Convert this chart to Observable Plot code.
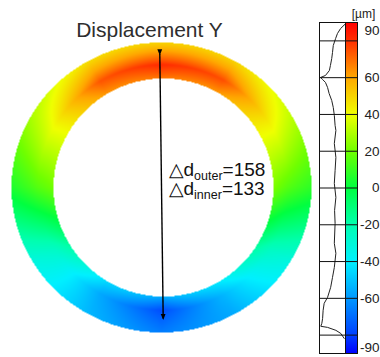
<!DOCTYPE html>
<html><head><meta charset="utf-8">
<script src="https://cdn.jsdelivr.net/npm/d3@7"></script>
<script src="https://cdn.jsdelivr.net/npm/@observablehq/plot@0.6"></script>
<style>
html,body{margin:0;padding:0;background:#fff;}
#wrap{display:flex;width:380px;height:357px;overflow:hidden;font-family:"Liberation Sans",Arial,sans-serif;}
#left{width:312px;flex:none;}
#right{width:68px;flex:none;}
#title{height:40px;box-sizing:border-box;padding-top:19px;width:299px;text-align:center;font-size:21px;line-height:21px;color:#2e2e2e;}
svg{overflow:visible;}
</style></head><body>
<div id="wrap"><div id="left"><div id="title">Displacement Y</div></div><div id="right"></div></div>
<script>
// ---- ring field: displacement values [µm] read around the ring (angle 0 = right, 90 = top)
const ringAngles  = [-180, -150, -120,  -90,  -60,  -30,   0,  30,  60,  90, 120, 150, 180];
const innerValues = [  20,  -15,  -45,  -55,  -42,  -15,  22,  42,  63,  68,  63,  40,  20];
const midValues   = [  15,  -25,  -56,  -77,  -53,  -25,  15,  43,  75,  81,  74,  41,  15];
const outerValues = [   5,  -32,  -53,  -66,  -56,  -32,   8,  33,  50,  50,  48,  30,   5];
const ringRadial  = [0, 0.45, 1];          // inner edge, middle, outer edge
const outerRadii  = [150, 145];            // ring geometry (plot units)
const innerRadii  = [110, 109];
const innerShiftX = 2;

// ---- annotation
const annotations = [{name: "outer", value: 158}, {name: "inner", value: 133}];
const arrowEnds = [{x1: -1.7, y1: 133.5, x2: 1.7, y2: -131}];

// ---- colour bar
const colorDomain = [-90, -80, -60, -40, -20, 0, 20, 40, 60, 80, 90];
const colorRange  = ["#0000ff", "#0040ff", "#0098ff", "#00f0ff", "#00ffb0", "#00ff40", "#70ff00", "#f0ff00", "#ffa800", "#ff3000", "#ff0000"];
const gridValues  = [80, 60, 40, 20, 0, -20, -40, -60, -80];
const tickMiddle  = [60, 40, 20, 0, -20, -40, -60];
const tickTop     = [90];
const tickBottom  = [-90];
const unitLabel   = "[µm]";

// ---- histogram in the colour bar (value, relative frequency)
const histValues = [88.9, 86.7, 84.0, 81.3, 77.5, 73.7, 70.4, 66.6, 63.9, 61.2, 60.1, 59.0, 57.4, 54.7, 51.4, 47.6, 43.8, 39.5, 34.0, 31.3, 24.2, 16.6, 9.6, 2.5, -5.1, -12.2, -19.2, -30.1, -35.5, -43.2, -48.6, -54.0, -59.5, -62.7, -66.5, -70.9, -73.6, -75.2, -75.8, -77.4, -79.1, -81.8];
const histFreqs  = [0.03, 0.19, 0.31, 0.38, 0.47, 0.50, 0.53, 0.58, 0.62, 0.77, 0.96, 0.88, 0.77, 0.69, 0.63, 0.53, 0.47, 0.43, 0.40, 0.37, 0.43, 0.37, 0.40, 0.43, 0.37, 0.42, 0.40, 0.43, 0.37, 0.43, 0.50, 0.57, 0.69, 0.82, 0.86, 0.88, 0.91, 0.95, 0.69, 0.37, 0.18, 0.05];
const hist = histValues.map((v, i) => ({v, f: histFreqs[i]}));

const font = '"Liberation Sans", Arial, sans-serif';
const colorScale = {type: "linear", domain: colorDomain, range: colorRange, interpolate: "rgb", clamp: true};

function lerp(xs, ys, v) {
  if (v <= xs[0]) return ys[0];
  for (let i = 1; i < xs.length; ++i) {
    if (v <= xs[i]) { const t = (v - xs[i-1]) / (xs[i] - xs[i-1]); return ys[i-1] + t * (ys[i] - ys[i-1]); }
  }
  return ys[ys.length - 1];
}
function radii(x, y) {
  const ro = Math.hypot(x / outerRadii[0], y / outerRadii[1]);
  const ri = Math.hypot((x - innerShiftX) / innerRadii[0], y / innerRadii[1]);
  return [ri, ro];
}
function field(x, y) {
  const [ri, ro] = radii(x, y);
  if (ro > 1 || ri < 1) return 0;
  const t = (ri - 1) / ((ri - 1) + (1 - ro));
  const a = Math.atan2(y, x) * 180 / Math.PI;
  const vals = [lerp(ringAngles, innerValues, a), lerp(ringAngles, midValues, a), lerp(ringAngles, outerValues, a)];
  return lerp(ringRadial, vals, t);
}
function inside(x, y) {
  const [ri, ro] = radii(x, y);
  return (ro <= 1 && ri >= 1) ? 1 : 0;
}

const xDomain = [-161, 151], yDomain = [-170, 147];
const ring = Plot.plot({
  width: 312, height: 317, margin: 0,
  x: {domain: xDomain, axis: null},
  y: {domain: yDomain, axis: null},
  color: colorScale,
  style: {fontFamily: font, background: "transparent"},
  marks: [
    Plot.raster({x1: xDomain[0], x2: xDomain[1], y1: yDomain[0], y2: yDomain[1], fill: field, fillOpacity: inside, pixelSize: 1}),
    Plot.link(arrowEnds, {x1: "x1", y1: "y1", x2: "x2", y2: "y2", stroke: "#000", strokeWidth: 1.4, markerStart: "arrow", markerEnd: "arrow"}),
    Plot.text(annotations, {x: () => 7, y: (d, i) => i === 0 ? 12 : -7, text: d => `△d_${d.name}=${d.value}`, textAnchor: "start", lineAnchor: "bottom", fontSize: 19, fill: "#111"})
  ]
});
// filled arrowheads
ring.querySelectorAll("marker").forEach(m => { m.setAttribute("fill", "#000"); m.setAttribute("stroke", "none"); });
ring.querySelectorAll("marker path").forEach(p => p.setAttribute("d", "M-5,-2.6L1.5,0L-5,2.6Z"));
// subscripts
ring.querySelectorAll("text").forEach(t => {
  const m = t.textContent.match(/^(△d)_(\w+)(=.*)$/);
  if (!m) return;
  t.textContent = "";
  const ns = "http://www.w3.org/2000/svg";
  const a = document.createElementNS(ns, "tspan"); a.textContent = m[1];
  const b = document.createElementNS(ns, "tspan"); b.textContent = m[2]; b.setAttribute("font-size", "12.5"); b.setAttribute("dy", "4");
  const c = document.createElementNS(ns, "tspan"); c.textContent = m[3]; c.setAttribute("dy", "-4");
  t.append(a, b, c);
});
document.getElementById("left").appendChild(ring);

const stripW = 12 / 26;
const bar = Plot.plot({
  width: 68, height: 357, marginTop: 22, marginBottom: 4, marginLeft: 7, marginRight: 23,
  x: {domain: [-1, stripW], axis: null},
  y: {domain: [-90, 90], axis: null},
  color: colorScale,
  style: {fontFamily: font, background: "transparent"},
  marks: [
    Plot.raster({x1: 0, x2: stripW, y1: -90, y2: 90, fill: (x, y) => y, pixelSize: 1}),
    Plot.line(hist, {x: d => -d.f, y: "v", stroke: "#222", strokeWidth: 1}),
    Plot.ruleY(gridValues, {stroke: "#111", strokeWidth: 1}),
    Plot.ruleX([0], {stroke: "#111", strokeWidth: 1}),
    Plot.frame({stroke: "#111", strokeWidth: 1}),
    Plot.text(tickMiddle, {y: d => d, text: d => String(d), frameAnchor: "right", dx: 22, textAnchor: "end", fontSize: 13.5, fill: "#222"}),
    Plot.text(tickTop, {y: d => d, text: d => String(d), frameAnchor: "right", dx: 22, dy: 8, textAnchor: "end", fontSize: 13.5, fill: "#222"}),
    Plot.text(tickBottom, {y: d => d, text: d => String(d), frameAnchor: "right", dx: 22, dy: -6, textAnchor: "end", fontSize: 13.5, fill: "#222"}),
    Plot.text([unitLabel], {text: d => d, frameAnchor: "top-right", dx: 6, dy: -13, textAnchor: "middle", fontSize: 12, fill: "#222"})
  ]
});
document.getElementById("right").appendChild(bar);
</script>
</body></html>
